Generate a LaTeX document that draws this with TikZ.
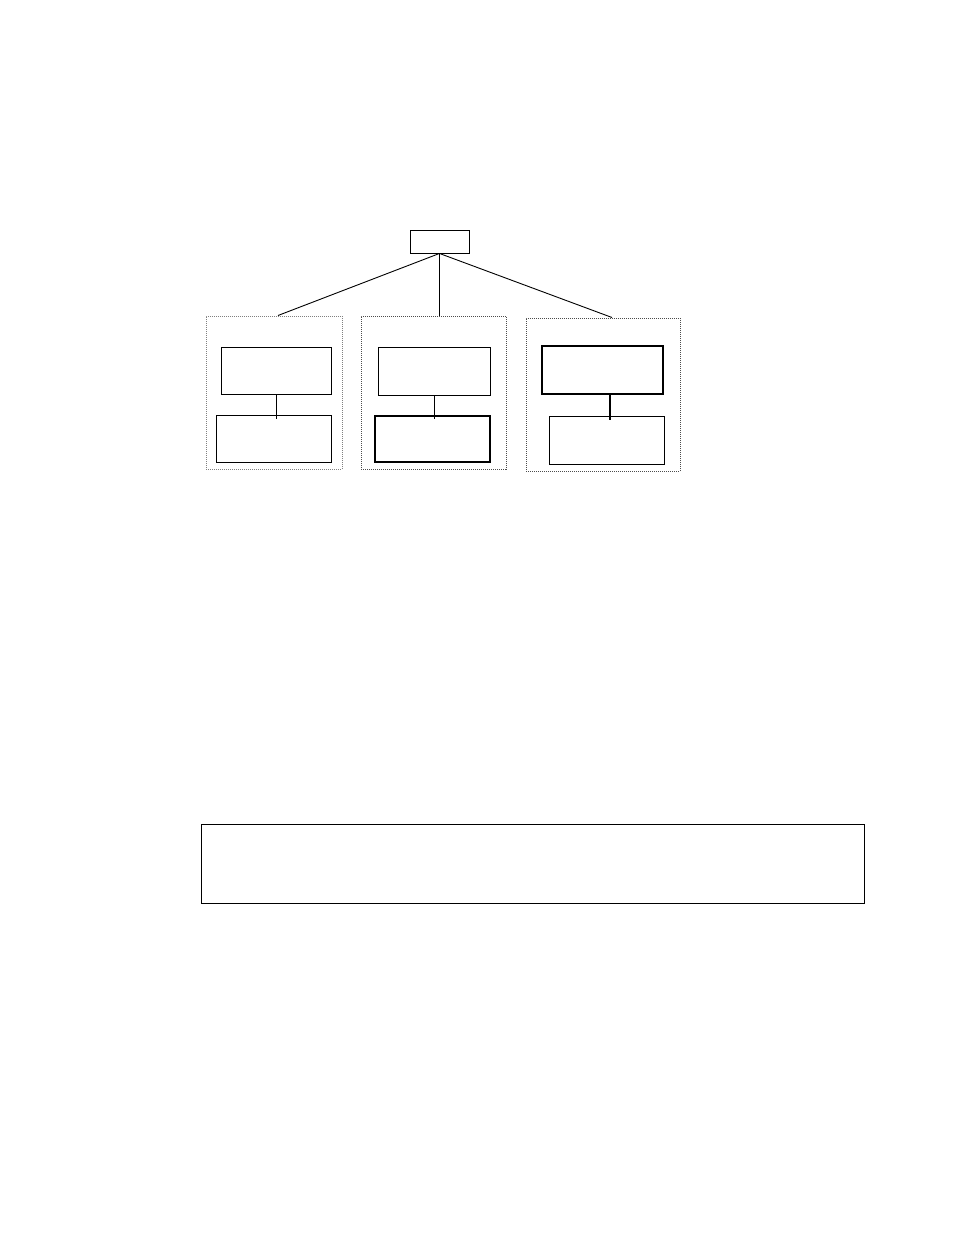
\documentclass[tikz,border=0pt]{standalone}
\usetikzlibrary{calc}
\tikzset{
	unit/.style={draw, line width=0.9pt, inner sep=0pt, minimum width=#1},
	unit/.default=110pt,
	group/.style={draw=black!70, densely dotted, line width=1pt, inner sep=0pt, minimum height=153pt, minimum width=#1},
	link/.style={line width=0.9pt}
}

\begin{document}
\begin{tikzpicture}[x=1pt, y=-1pt]
		%%%%% START %%%%%
		\useasboundingbox (0, 0) rectangle (954, 1235);
		
		\node[unit=59pt, minimum height=23pt] (root) at (439.5, 241.5) {};
		
		\node[group=136pt, draw=black!50] (grpA) at (274, 392.5) {};
		\node[group=145pt] (grpB) at (433.5, 392.5) {};
		\node[group=154pt] (grpC) at (603, 394.5) {};
		
		\draw[link] (root.south) -- ([xshift=4pt]grpA.north);
		\draw[link] (root.south) -- (root.south |- grpB.north);
		\draw[link] (root.south) -- ([xshift=9pt]grpC.north);
		
		\node[unit=110pt, minimum height=47pt] (unitA1) at (276, 370.5) {};
		\node[unit=115pt, minimum height=47pt] (unitA2) at (273.5, 438.5) {};
		\draw[link] (unitA1.south) -- ([yshift=-4pt]unitA1.south |- unitA2.north);
		
		\node[unit=112pt, minimum height=48pt] (unitB1) at (434, 371) {};
		\node[unit=115pt, minimum height=46pt, line width=1.1pt] (unitB2) at (432.5, 439) {};
		\draw[link] (unitB1.south) -- ([yshift=-4pt]unitB1.south |- unitB2.north);
		
		\node[unit=121pt, minimum height=48pt, line width=1.2pt] (unitC1) at (602.5, 370) {};
		\node[unit=115pt, minimum height=48pt] (unitC2) at (606.5, 440) {};
		\draw[link, line width=1.8pt] (unitC1.south -| 610, 0) -- ([yshift=-4pt]610, 0 |- unitC2.north);
		
		\node[unit=663pt, minimum height=79pt] (note) at (532.5, 863.5) {};
		%%%%% END %%%%%
\end{tikzpicture}
\end{document}
